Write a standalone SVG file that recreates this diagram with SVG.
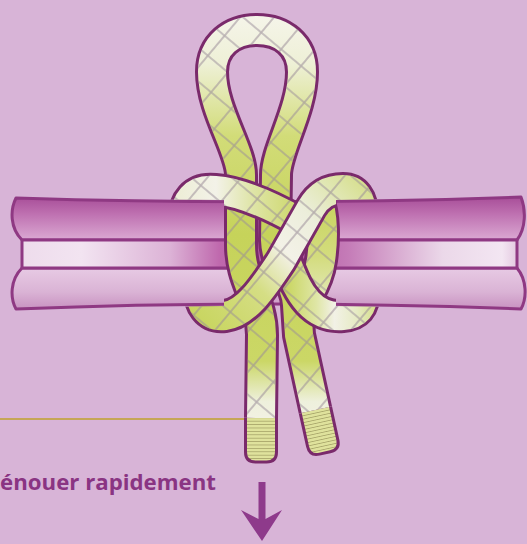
<svg xmlns="http://www.w3.org/2000/svg" width="527" height="544" viewBox="0 0 527 544">
  <style>
    .edge { fill: none; stroke: #7a2a6b; stroke-width: 34; stroke-linejoin: round; }
    .body { fill: none; stroke-width: 28; stroke-linejoin: round; }
    .weave { fill: none; stroke: url(#weave); stroke-width: 28; stroke-linejoin: round; }
    .spar-line { stroke: #8f3983; stroke-width: 3; stroke-linejoin: round; }
    .whip { fill: url(#whip); stroke: #7a2a6b; stroke-width: 3; stroke-linejoin: round; }
    .caption { font-family: "Open Sans", "Liberation Sans", sans-serif; font-weight: 700; font-size: 21px; fill: #8a3483; }
  </style>
  <defs>
    <!-- spar shading -->
    <linearGradient id="spar-top" x1="0" y1="198" x2="0" y2="240" gradientUnits="userSpaceOnUse">
      <stop offset="0" stop-color="#a9509a"/>
      <stop offset="0.35" stop-color="#bd6eaf"/>
      <stop offset="1" stop-color="#dba9d3"/>
    </linearGradient>
    <linearGradient id="spar-mid" x1="22" y1="0" x2="517" y2="0" gradientUnits="userSpaceOnUse">
      <stop offset="0" stop-color="#eedcec"/>
      <stop offset="0.12" stop-color="#f2e4f1"/>
      <stop offset="0.3" stop-color="#dcb2d6"/>
      <stop offset="0.4" stop-color="#bf68ad"/>
      <stop offset="0.55" stop-color="#b55aa3"/>
      <stop offset="0.66" stop-color="#c57cb8"/>
      <stop offset="0.85" stop-color="#ebd8e9"/>
      <stop offset="0.97" stop-color="#f3e6f2"/>
      <stop offset="1" stop-color="#e4c9e1"/>
    </linearGradient>
    <linearGradient id="spar-low" x1="0" y1="268" x2="0" y2="308" gradientUnits="userSpaceOnUse">
      <stop offset="0" stop-color="#e7cae4"/>
      <stop offset="0.6" stop-color="#dab3d5"/>
      <stop offset="1" stop-color="#c994c2"/>
    </linearGradient>

    <!-- rope shading -->
    <linearGradient id="g-leg" x1="0" y1="10" x2="0" y2="460" gradientUnits="userSpaceOnUse">
      <stop offset="0" stop-color="#f6f5ec"/>
      <stop offset="0.12" stop-color="#eef0d6"/>
      <stop offset="0.28" stop-color="#d2dc78"/>
      <stop offset="0.5" stop-color="#c6d35a"/>
      <stop offset="0.78" stop-color="#cbd766"/>
      <stop offset="0.87" stop-color="#eef0dc"/>
      <stop offset="0.93" stop-color="#f4f2e6"/>
      <stop offset="1" stop-color="#d6de88"/>
    </linearGradient>
    <linearGradient id="g-cross" x1="205" y1="330" x2="370" y2="175" gradientUnits="userSpaceOnUse">
      <stop offset="0" stop-color="#c8d55f"/>
      <stop offset="0.3" stop-color="#d5de84"/>
      <stop offset="0.5" stop-color="#f3f1e7"/>
      <stop offset="0.68" stop-color="#eceedb"/>
      <stop offset="0.85" stop-color="#dfe6ae"/>
      <stop offset="1" stop-color="#d3dc82"/>
    </linearGradient>
    <linearGradient id="g-upper" x1="180" y1="0" x2="300" y2="0" gradientUnits="userSpaceOnUse">
      <stop offset="0" stop-color="#eeeed8"/>
      <stop offset="0.3" stop-color="#f3f2e8"/>
      <stop offset="0.6" stop-color="#dfe5a8"/>
      <stop offset="1" stop-color="#ccd768"/>
    </linearGradient>
    <linearGradient id="g-lower" x1="285" y1="0" x2="375" y2="0" gradientUnits="userSpaceOnUse">
      <stop offset="0" stop-color="#c8d55e"/>
      <stop offset="0.35" stop-color="#dfe6a6"/>
      <stop offset="0.55" stop-color="#f2f1e6"/>
      <stop offset="0.8" stop-color="#e6ebc3"/>
      <stop offset="1" stop-color="#d7df8f"/>
    </linearGradient>
    <linearGradient id="g-bulge" x1="0" y1="200" x2="0" y2="295" gradientUnits="userSpaceOnUse">
      <stop offset="0" stop-color="#c8d55e"/>
      <stop offset="0.6" stop-color="#d3dc7e"/>
      <stop offset="1" stop-color="#e2e8b2"/>
    </linearGradient>

    <!-- braided cover and whipping -->
    <pattern id="weave" patternUnits="userSpaceOnUse" width="26" height="26" patternTransform="rotate(40)">
      <path d="M0 13 H26 M13 0 V26" stroke="#9a8c98" stroke-width="1.6" stroke-opacity="0.65" fill="none"/>
    </pattern>
    <pattern id="whip" patternUnits="userSpaceOnUse" width="8" height="3.4">
      <rect width="8" height="3.4" fill="#dfe29c"/>
      <path d="M0 3 H8" stroke="#aaa86c" stroke-width="0.9"/>
    </pattern>

    <!-- hides rope where it passes behind the spar -->
    <clipPath id="behind-spar">
      <path clip-rule="evenodd" d="M0 0 H527 V544 H0 Z M0 198.5 L224 200 L224 306 L0 309.5 Z M336 200 L527 196.5 L527 309.5 L336 306 Z"/>
    </clipPath>

    <!-- rope centre lines -->
    <path id="p-leg-a" d="M261 418 L262 335 C262 300 241 282 241 245 L241 175 C241 150 212 110 212 72 C212 45 232 30 257 30"/>
    <path id="p-leg-b" d="M257 30 C282 30 302 45 302 72 C302 110 276 150 276 175 L275 240 C276 270 296 280 297 305 L299 335 L315.4 410"/>
    <path id="p-bulge" d="M318 200 C324 215 324 240 321 260 C319 275 314 285 308 295"/>
    <path id="p-upper" d="M185 225 C182 200 195 188 215 190 C240 192 270 205 300 222"/>
    <path id="p-lower" d="M285 258 C292 275 297 290 308 302 C318 313 330 317 343 316 C357 315 364 308 364 290"/>
    <path id="p-cross" d="M200 285 C198 305 208 318 225 316 C245 314 262 290 281 261 L311 208 C318 196 328 189 343 189 C355 189 362 198 362 215"/>
  </defs>

  <rect id="background" width="527" height="544" fill="#d8b4d7"/>

  <line id="leader" x1="0" y1="419" x2="244" y2="419" stroke="#c6a656" stroke-width="2"/>

  <!-- the spar: three stacked rods -->
  <g id="spar">
    <path class="spar-line" fill="url(#spar-top)" d="M16 198 Q268 206 521 197 C526 210 526 228 517 240 L22 240 C10 228 10 210 16 198 Z"/>
    <path class="spar-line" fill="url(#spar-low)" d="M22 268 L517 268 C527 280 527 298 521 309 Q268 299 16 309 C10 298 10 280 22 268 Z"/>
    <path class="spar-line" fill="url(#spar-mid)" d="M22 240 L517 240 L517 268 L22 268 Z"/>
  </g>

  <!-- the rope -->
  <g id="rope">
    <g id="leg-left">
      <use href="#p-leg-a" class="edge"/>
      <use href="#p-leg-a" class="body" stroke="url(#g-leg)"/>
      <use href="#p-leg-a" class="weave"/>
    </g>
    <g id="leg-right">
      <use href="#p-leg-b" class="edge"/>
      <use href="#p-leg-b" class="body" stroke="url(#g-leg)"/>
      <use href="#p-leg-b" class="weave"/>
    </g>
    <g id="turn-right">
      <use href="#p-bulge" class="edge"/>
      <use href="#p-bulge" class="body" stroke="url(#g-bulge)"/>
      <use href="#p-bulge" class="weave"/>
    </g>
    <g id="wrap-upper" clip-path="url(#behind-spar)">
      <use href="#p-upper" class="edge"/>
      <use href="#p-upper" class="body" stroke="url(#g-upper)"/>
      <use href="#p-upper" class="weave"/>
    </g>
    <g id="wrap-lower" clip-path="url(#behind-spar)">
      <use href="#p-lower" class="edge"/>
      <use href="#p-lower" class="body" stroke="url(#g-lower)"/>
      <use href="#p-lower" class="weave"/>
    </g>
    <g id="wrap-cross" clip-path="url(#behind-spar)">
      <use href="#p-cross" class="edge"/>
      <use href="#p-cross" class="body" stroke="url(#g-cross)"/>
      <use href="#p-cross" class="weave"/>
    </g>
    <g id="end-left">
      <path class="whip" d="M245.5 418 V452 Q245.5 462 255.5 462 H266.5 Q276.5 462 276.5 452 V418"/>
    </g>
    <g id="end-right" transform="translate(315.4 410) rotate(-12.4)">
      <path class="whip" d="M-15.5 0 V34 Q-15.5 44 -5.5 44 H5.5 Q15.5 44 15.5 34 V0"/>
    </g>
  </g>

  <text id="caption" class="caption" x="0" y="490" textLength="216" lengthAdjust="spacingAndGlyphs">énouer rapidement</text>

  <path id="pull-arrow" fill="#8e3a8b" d="M258.5 482 H265.5 V519 L282 510 L262 541 L241 510 L258.5 519 Z"/>
</svg>
